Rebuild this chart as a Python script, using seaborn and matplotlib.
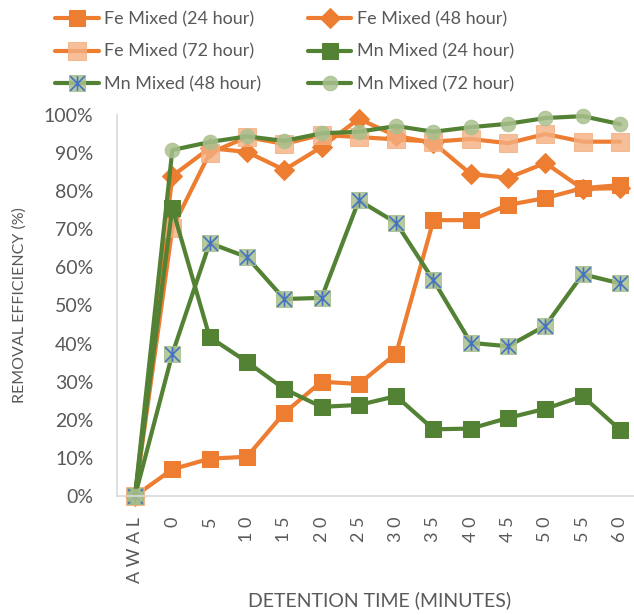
import matplotlib
matplotlib.use("Agg")
import matplotlib.pyplot as plt
from matplotlib.path import Path
from matplotlib.ticker import PercentFormatter
import seaborn as sns
import pandas as pd
import numpy as np

categories = ["AWAL", "0", "5", "10", "15", "20", "25", "30", "35", "40", "45", "50", "55", "60"]

fe_24 = [0, 7.0, 9.8, 10.3, 21.8, 30.0, 29.4, 37.4, 72.4, 72.4, 76.4, 78.2, 80.8, 81.6]
fe_48 = [0, 84.0, 91.3, 90.3, 85.6, 91.6, 99.0, 94.5, 92.7, 84.5, 83.5, 87.4, 80.6, 80.8]
fe_72 = [0, 70.3, 90.0, 94.2, 92.4, 94.8, 94.2, 93.6, 93.0, 93.7, 92.6, 95.0, 93.0, 93.0]
mn_24 = [0, 75.6, 41.7, 35.2, 28.1, 23.4, 23.9, 26.2, 17.5, 17.7, 20.5, 22.9, 26.2, 17.4]
mn_48 = [0, 37.3, 66.4, 62.7, 51.7, 52.0, 77.6, 71.7, 56.6, 40.2, 39.3, 44.7, 58.2, 55.8]
mn_72 = [0, 90.8, 92.9, 94.4, 93.2, 95.2, 95.6, 97.1, 95.6, 96.8, 97.7, 99.2, 99.7, 97.6]

series_names = ["Fe Mixed (24 hour)", "Fe Mixed (48 hour)", "Fe Mixed (72 hour)",
                "Mn Mixed (24 hour)", "Mn Mixed (48 hour)", "Mn Mixed (72 hour)"]
series_values = [fe_24, fe_48, fe_72, mn_24, mn_48, mn_72]

ORANGE = "#ED7D31"
GREEN = "#548235"
LIGHT_OR = (0.957, 0.69, 0.50, 0.8)
LIGHT_GR = (0.663, 0.753, 0.557, 0.85)
BLUE = "#4472C4"
TXT = "#595959"

sns.set_theme(style="white")
plt.rcParams["font.family"] = ["Lato", "DejaVu Sans"]

fig = plt.figure(figsize=(6.34, 6.15), dpi=100)
ax = fig.add_axes([117/634, 119/615, (634-117)/634, (496-115)/615])

pos = np.arange(len(categories))
lw = 3.0

styles = [
    dict(color=ORANGE, marker="s", markersize=12, markerfacecolor=ORANGE, markeredgecolor=ORANGE),
    dict(color=ORANGE, marker="D", markersize=10, markerfacecolor=ORANGE, markeredgecolor=ORANGE),
    dict(color=ORANGE, marker="s", markersize=12.5, markerfacecolor=LIGHT_OR, markeredgecolor=LIGHT_OR),
    dict(color=GREEN, marker="s", markersize=12, markerfacecolor=GREEN, markeredgecolor=GREEN),
    dict(color=GREEN, marker="s", markersize=11.5, markerfacecolor=LIGHT_GR, markeredgecolor=LIGHT_GR),
    dict(color=GREEN, marker="o", markersize=10.5, markerfacecolor=LIGHT_GR, markeredgecolor=LIGHT_GR),
]

star_path = Path([(-1, -1), (1, 1), (-1, 1), (1, -1), (0, -1), (0, 1)],
                 [Path.MOVETO, Path.LINETO, Path.MOVETO, Path.LINETO, Path.MOVETO, Path.LINETO])

handles = {}
for name, vals, st in zip(series_names, series_values, styles):
    df = pd.DataFrame({"x": pos, "y": vals})
    sns.lineplot(data=df, x="x", y="y", ax=ax, linewidth=lw, sort=False,
                 clip_on=False, **st)
    line = ax.lines[-1]
    h = line
    if name == "Mn Mixed (48 hour)":
        ov = ax.plot(pos, vals, linestyle="none", marker=star_path, markersize=10.5,
                     markerfacecolor="none", markeredgecolor=BLUE, markeredgewidth=1.2,
                     clip_on=False)[0]
        h = (line, ov)
    handles[name] = h

ax.set_xlim(-0.483, 13.375)
ax.set_ylim(0, 100)
ax.set_yticks(np.arange(0, 101, 10))
ax.yaxis.set_major_formatter(PercentFormatter(100, decimals=0))
ax.set_xticks(pos)
ax.set_xticklabels([" ".join(c) for c in categories], rotation=90, va="top")

for s in ["top", "right"]:
    ax.spines[s].set_visible(False)
for s in ["left", "bottom"]:
    ax.spines[s].set_color("#D9D9D9")
    ax.spines[s].set_linewidth(1.2)

ax.tick_params(axis="y", length=0, pad=17, labelsize=14, labelcolor=TXT)
ax.tick_params(axis="x", length=0, pad=15, labelsize=13, labelcolor=TXT)
ax.grid(False)

ax.set_xlabel("")
ax.set_ylabel("REMOVAL EFFICIENCY (%)", fontsize=11.5, color=TXT, labelpad=12)
fig.text(380/634, 1 - 600/615, "DETENTION TIME (MINUTES)", fontsize=14, color=TXT,
         ha="center", va="center")

order = ["Fe Mixed (24 hour)", "Fe Mixed (72 hour)", "Mn Mixed (48 hour)",
         "Fe Mixed (48 hour)", "Mn Mixed (24 hour)", "Mn Mixed (72 hour)"]
leg = fig.legend([handles[n] for n in order], order, loc="upper center",
                 bbox_to_anchor=(0.449, 1.008), ncol=2, frameon=False,
                 fontsize=13, handlelength=2.4, columnspacing=2.6,
                 labelspacing=0.9, handletextpad=0.3)
for t in leg.get_texts():
    t.set_color(TXT)

fig.savefig("out.png", dpi=100)
